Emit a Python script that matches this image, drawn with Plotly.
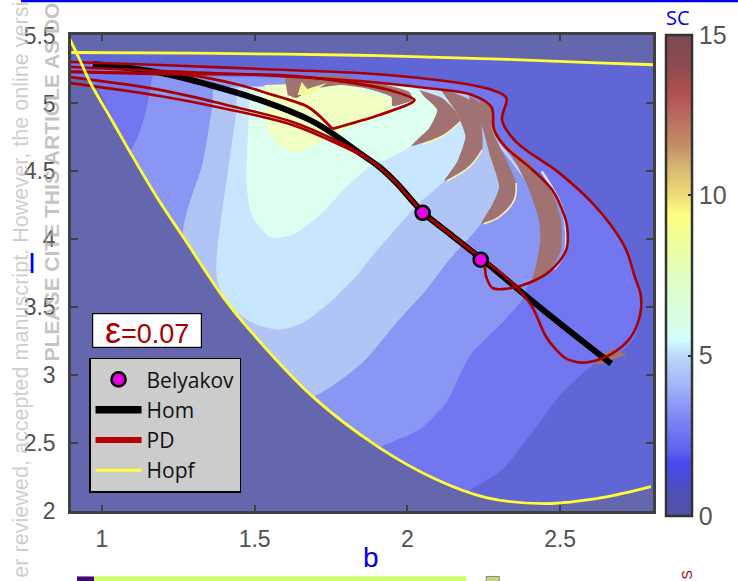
import plotly.graph_objects as go

# ---------- curves (b, I) ----------
hopf_lower_b = [0.892,0.928,0.961,1.036,1.092,1.18,1.268,1.395,1.474,1.690,1.908,2.095,2.258,2.454,2.637,2.797]
hopf_lower_I = [5.489,5.320,5.158,4.864,4.643,4.31,4.011,3.58,3.357,2.842,2.467,2.232,2.099,2.055,2.099,2.180]
hopf_upper_b = [0.90,1.30,1.84,2.30,2.60,2.805]
hopf_upper_I = [5.375,5.370,5.355,5.327,5.300,5.285]

hom_b = [0.971,1.19,1.353,1.516,1.68,1.752,1.843,1.908,1.964,2.016,2.052,2.147,2.242,2.45,2.667]
hom_I = [5.29,5.226,5.136,5.026,4.879,4.783,4.636,4.533,4.415,4.283,4.195,4.026,3.857,3.47,3.085]

belyakov_b = [2.05,2.24]
belyakov_I = [4.195,3.85]

pd_a_b = [0.899,1.19,1.516,1.843,2.007,2.170,2.278,2.324,2.310,2.356,2.497,2.605,2.670,2.716,2.745,2.763,2.765,2.752,2.725,2.670,2.618,2.572,2.52,2.487,2.454,2.408,2.356,2.301,2.242,2.147,2.052,2.016,1.964,1.908,1.843,1.755,1.624,1.408,1.19,0.895]
pd_a_I = [5.305,5.283,5.254,5.224,5.195,5.151,5.099,5.041,4.879,4.717,4.489,4.268,4.092,3.923,3.72,3.60,3.49,3.37,3.261,3.158,3.107,3.092,3.121,3.188,3.283,3.504,3.651,3.761,3.857,4.026,4.195,4.283,4.415,4.533,4.625,4.72,4.842,4.96,5.055,5.151]
pd_b_b = [0.899,1.19,1.516,1.843,2.062,2.212,2.275,2.284,2.324,2.399,2.474,2.513,2.523,2.520,2.464,2.399,2.324,2.278,2.258,2.248,2.147,2.052,2.016,1.964,1.908,1.843,1.755,1.624,1.408,1.19,0.895]
pd_b_I = [5.268,5.239,5.21,5.165,5.114,5.063,4.974,4.805,4.673,4.533,4.364,4.18,4.092,3.923,3.761,3.68,3.636,3.643,3.724,3.835,4.026,4.195,4.283,4.415,4.533,4.636,4.74,4.864,4.989,5.10,5.195]
pd_c1_b = [0.899,1.19,1.582,1.801,1.941,2.023,2.013,1.908,1.755]
pd_c1_I = [5.232,5.217,5.209,5.158,5.099,5.026,5.004,4.915,4.813]
pd_c2_b = [1.755,1.68,1.614,1.559,1.451,1.278,1.134,0.899]
pd_c2_I = [4.813,4.967,5.026,5.063,5.136,5.21,5.224,5.232]

# ---------- level regions of the SC map (b, I) ----------
band_deep_b = [0.9,1.3,1.84,2.3,2.6,2.805,2.805,0.9]
band_deep_I = [5.375,5.37,5.355,5.327,5.3,5.285,2.0,2.0]
band_2_b = pd_a_b[:17] + [2.748,2.699,2.618,2.507,2.422,2.31,2.209,2.10,0.9]
band_2_I = pd_a_I[:17] + [3.298,3.173,3.092,2.871,2.621,2.305,2.158,2.0,2.0]
band_3_b = [1.167,1.843,2.062,2.212,2.275,2.284,2.324,2.399,2.474,2.513,2.523,2.520,2.464,2.399,2.376,2.31,2.203,2.127,2.039,1.908,1.647,0.993,0.993,1.092,1.124,1.15,1.163]
band_3_I = [5.21,5.165,5.114,5.063,4.974,4.805,4.673,4.533,4.364,4.18,4.092,3.923,3.761,3.68,3.555,3.386,3.136,2.798,2.599,2.467,2.085,2.085,4.29,4.643,4.79,5.004,5.173]
band_4_b = [1.363,1.843,2.203,2.245,2.301,2.278,2.242,2.137,2.062,1.964,1.853,1.69,1.484,1.265,1.33,1.363]
band_4_I = [5.114,5.143,5.055,4.827,4.386,4.254,4.114,3.849,3.629,3.386,3.092,2.842,2.82,4.011,4.563,5.004]
band_5_b = [1.441,1.843,2.105,2.186,2.19,2.163,2.121,2.039,1.931,1.876,1.843,1.745,1.657,1.582,1.493,1.408,1.376,1.379,1.418,1.441]
band_5_I = [5.114,5.143,5.099,4.989,4.754,4.57,4.43,4.268,3.996,3.849,3.754,3.533,3.386,3.335,3.386,3.533,3.724,3.945,4.585,4.952]
band_6_b = [1.484,1.843,2.056,2.098,2.072,2.013,1.951,1.876,1.801,1.722,1.637,1.582,1.549,1.493,1.474,1.484]
band_6_I = [5.114,5.143,5.085,4.952,4.82,4.688,4.607,4.533,4.386,4.195,4.048,4.011,4.018,4.165,4.386,5.004]
band_7_b = [1.533,1.778,1.951,1.951,1.918,1.801,1.755,1.647,1.624,1.572,1.539]
band_7_I = [5.136,5.136,5.026,4.989,4.915,4.82,4.768,4.643,4.643,4.71,4.827]

stripe_1_b = [2.039,2.114,2.163,2.173,2.121,2.013,2.072,2.098,2.056]
stripe_1_I = [5.099,5.04,4.93,4.864,4.768,4.688,4.82,4.952,5.048]
stripe_2_b = [2.105,2.203,2.242,2.245,2.203,2.121,2.163,2.19,2.163]
stripe_2_I = [5.114,5.026,4.842,4.658,4.533,4.43,4.57,4.754,4.93]
stripe_3_b = [2.203,2.268,2.278,2.324,2.356,2.35,2.301,2.242,2.278,2.301,2.268,2.245,2.203]
stripe_3_I = [5.055,4.952,4.805,4.585,4.415,4.29,4.165,4.114,4.254,4.386,4.636,4.827,4.989]
stripe_4_b = [2.235,2.275,2.291,2.317,2.399,2.474,2.503,2.503,2.464,2.405,2.422,2.435,2.431,2.399,2.35,2.284,2.258]
stripe_4_I = [5.026,4.967,4.805,4.71,4.563,4.342,4.143,3.923,3.761,3.665,3.813,3.996,4.143,4.364,4.585,4.805,4.938]
stripe_top_b = [1.598,1.778,2.007,2.016,1.951,1.948,1.859,1.778,1.68,1.637,1.608]
stripe_top_I = [5.202,5.202,5.085,5.026,4.982,5.048,5.114,5.136,5.099,5.04,5.063]
stripe_tip_b = [2.637,2.67,2.716,2.67,2.627,2.611]
stripe_tip_I = [3.151,3.188,3.151,3.114,3.077,3.092]
peak_v_b = [1.641,1.654,1.673,1.735,1.68]
peak_v_I = [5.063,5.158,5.107,5.151,5.063]

cream_1_b = [2.173,2.121,2.05]
cream_1_I = [4.864,4.768,4.70]
cream_2_b = [2.245,2.203,2.13]
cream_2_I = [4.658,4.533,4.43]
cream_3_b = [2.356,2.35,2.301,2.25]
cream_3_I = [4.415,4.29,4.165,4.114]
pale_1_b = [2.21,2.262,2.29,2.335,2.41,2.44]
pale_1_I = [5.02,4.88,4.73,4.60,4.36,4.15]
pale_2_b = [2.44,2.505,2.52,2.515,2.48]
pale_2_I = [4.50,4.24,4.05,3.90,3.78]

# regions outside the Hopf curves
outside_b = [0.7] + hopf_lower_b[2:] + [3.0,3.0,0.7]
outside_I = [5.15] + hopf_lower_I[2:] + [2.3,1.7,1.7]
above_b = hopf_upper_b + [2.805,0.9]
above_I = hopf_upper_I + [5.504,5.504]

# ---------- colour bar ----------
sc_levels = [0,0.8,1.0,1.7,2.0,3,4,5,5.5,6,7.5,8.5,9.4,10,10.8,11.5,12.5,13.2,14,15]
sc_colors = ["#5252a6","#4e50b8","#4c4ccc","#4a4af0","#5e60f0","#7c84f4","#a0b2f6","#bcd8f8","#d0ffff","#d8ffe8",
             "#e0ffc0","#ecff9c","#ffff80","#ecdc78","#d9bb70","#c49068","#b96a5e","#b05050","#8f4a4e","#7b4c50"]
base_z = [[0.55,0.55],[0.55,0.55]]
x_ticks = [1,1.5,2,2.5]
y_ticks = [2,2.5,3,3.5,4,4.5,5,5.5]
y_labels = ["2","2.5","3","3.5","4","4.5","5","5.5"]
sc_ticks = [0,5,10,15]

RED = "#a80000"
YEL = "#ffff33"
fig = go.Figure()
fig.add_trace(go.Heatmap(x=[0.9,2.805],y=[2,5.504],z=base_z,zmin=0,zmax=15,
    colorscale=[[l/15,c] for l,c in zip(sc_levels,sc_colors)],showlegend=False,hoverinfo="skip",
    colorbar=dict(thickness=26,thicknessmode="pixels",len=481,lenmode="pixels",
                  x=1.0222,xanchor="left",y=1,yanchor="top",xpad=0,ypad=0,outlinecolor="#333333",outlinewidth=2.5,
                  tickvals=sc_ticks,ticks="inside",ticklen=5,tickcolor="#333333",tickwidth=2,tickprefix="\u00a0",
                  tickfont=dict(family="Liberation Sans",size=25,color="#555555"))))

def region(b, i, color, smooth=0.7):
    fig.add_trace(go.Scatter(x=b,y=i,mode="lines",fill="toself",fillcolor=color,
        line=dict(width=0,color=color,shape="spline",smoothing=smooth),showlegend=False,hoverinfo="skip"))
def curve(b, i, color, width, smooth=1.0):
    fig.add_trace(go.Scatter(x=b,y=i,mode="lines",line=dict(width=width,color=color,shape="spline",smoothing=smooth),
        showlegend=False,hoverinfo="skip"))

region(band_deep_b,band_deep_I,"#6166d6",0)
region(band_2_b,band_2_I,"#7276f1")
region(band_3_b,band_3_I,"#8a96f4")
region(band_4_b,band_4_I,"#b0c4f5")
region(band_5_b,band_5_I,"#c8e6fd")
region(band_6_b,band_6_I,"#dcfff0")
region(band_7_b,band_7_I,"#f0ffc4")
curve(pale_1_b,pale_1_I,"#c4d4f6",2.5)
curve(pale_2_b,pale_2_I,"#d8e8f4",2.5)
for b,i in [(stripe_1_b,stripe_1_I),(stripe_2_b,stripe_2_I),(stripe_3_b,stripe_3_I),(stripe_4_b,stripe_4_I),(stripe_top_b,stripe_top_I),(stripe_tip_b,stripe_tip_I)]:
    region(b,i,"#a07272",0.5)
region(peak_v_b,peak_v_I,"#f4f79a",0)
for b,i in [(cream_1_b,cream_1_I),(cream_2_b,cream_2_I),(cream_3_b,cream_3_I)]:
    curve(b,i,"#f4f4b8",1.6)
region(outside_b,outside_I,"#6466ae",1.0)
region(above_b,above_I,"#6466ae",0)

curve(hom_b,hom_I,"black",6)
curve(pd_a_b,pd_a_I,RED,2.6)
curve(pd_b_b,pd_b_I,RED,2.6)
curve(pd_c1_b,pd_c1_I,RED,2.8)
curve(pd_c2_b,pd_c2_I,RED,2.8)
curve(hopf_lower_b,hopf_lower_I,YEL,2.8)
curve(hopf_upper_b,hopf_upper_I,YEL,2.8)

fig.add_trace(go.Scatter(x=belyakov_b,y=belyakov_I,mode="markers",name="Belyakov",legendgroup="a",
    marker=dict(size=14,color="#e600e6",line=dict(color="black",width=2.6)),hoverinfo="skip"))
fig.add_trace(go.Scatter(x=[None],y=[None],mode="lines",name="Hom",legendgroup="b",line=dict(color="black",width=7.5)))
fig.add_trace(go.Scatter(x=[None],y=[None],mode="lines",name="PD",legendgroup="c",line=dict(color="#b80000",width=6)))
fig.add_trace(go.Scatter(x=[None],y=[None],mode="lines",name="Hopf",legendgroup="d",line=dict(color=YEL,width=3)))

axis_col = "#404040"
axis_font = dict(family="Liberation Sans",size=23,color="#505050")
fig.update_xaxes(range=[0.899,2.804],tickvals=x_ticks,ticktext=["1","1.5","2","2.5"],ticks="inside",ticklen=6,tickwidth=2,tickcolor=axis_col,
    showline=True,linecolor=axis_col,linewidth=2.5,mirror="ticks",showgrid=False,zeroline=False,tickfont=axis_font,ticklabelstandoff=6)
fig.update_yaxes(range=[2,5.504],tickvals=y_ticks,ticktext=y_labels,ticks="inside",ticklen=7,tickwidth=2,tickcolor=axis_col,
    showline=True,linecolor=axis_col,linewidth=2.5,mirror="ticks",showgrid=False,zeroline=False,tickfont=axis_font,ticklabelstandoff=8)

annots = [
    dict(text="er reviewed, accepted manuscript. However, the online versi",x=-0.0858,y=0.465,textangle=-90,showarrow=False,
         font=dict(family="Liberation Sans",size=21.6,color="rgba(190,190,190,0.75)")),
    dict(text="<b>PLEASE CITE THIS ARTICLE AS DO</b>",x=-0.0326,y=0.69,textangle=-90,showarrow=False,
         font=dict(family="Liberation Sans",size=21,color="rgba(170,170,170,0.7)")),
    dict(text="SC",x=1.043,y=1.036,showarrow=False,font=dict(family="Open Sans",size=20,color="#0000ee")),
    dict(text="I",x=-0.067,y=0.5215,showarrow=False,font=dict(family="Liberation Sans",size=29,color="#0000ee")),
    dict(text="b",x=0.516,y=-0.0976,showarrow=False,font=dict(family="Liberation Sans",size=28,color="#0000ee")),
    dict(text="<span style='font-size:36px'>\u03b5</span>=0.07",x=0.1304,y=0.38,showarrow=False,width=108,height=33,bgcolor="white",bordercolor="black",borderwidth=1.2,borderpad=0,
         font=dict(family="Liberation Sans",size=27,color="#a80000")),
    dict(text="S",x=1.059,y=-0.135,textangle=-90,showarrow=False,font=dict(family="Liberation Sans",size=14,color="#a80000")),
]
for a in annots:
    a.update(xref="paper",yref="paper",xanchor="center",yanchor="middle")

def rect(x0,x1,y0,y1,fill,line=None):
    return dict(type="rect",xref="paper",yref="paper",x0=x0,x1=x1,y0=y0,y1=y1,fillcolor=fill,line=dict(width=1 if line else 0,color=line or fill))
shapes = [
    rect(-0.0858,1.15,1.069,1.0735,"#0000ee"),
    rect(0.0103,0.0395,-0.1375,-0.148,"#3c0a70"),
    rect(0.0395,0.679,-0.1375,-0.148,"#ccff66"),
    rect(0.7135,0.736,-0.1375,-0.148,"#c8d878","#888888"),
    dict(type="path",xref="paper",yref="paper",path="M 1.065,0.9685 Q 1.055,0.72 1.0446,0.5068 Q 1.033,0.234 1.024,0.045",
         line=dict(color="rgba(255,255,255,0.55)",width=1)),
]

fig.update_layout(width=745,height=581,margin=dict(l=71,r=84,t=35,b=69.5,pad=0),plot_bgcolor="#6466ae",paper_bgcolor="white",
    showlegend=True,annotations=annots,shapes=shapes,
    legend=dict(x=0.031,y=0.322,xanchor="left",yanchor="top",bgcolor="#cccccc",bordercolor="black",borderwidth=1.5,
        itemwidth=46,tracegroupgap=10,font=dict(family="Open Sans",size=21,color="#111111"),traceorder="normal"))
fig.write_html("out.html",config=dict(displayModeBar=False),
    post_script="document.body.style.margin='0';document.documentElement.style.overflow='hidden';")
